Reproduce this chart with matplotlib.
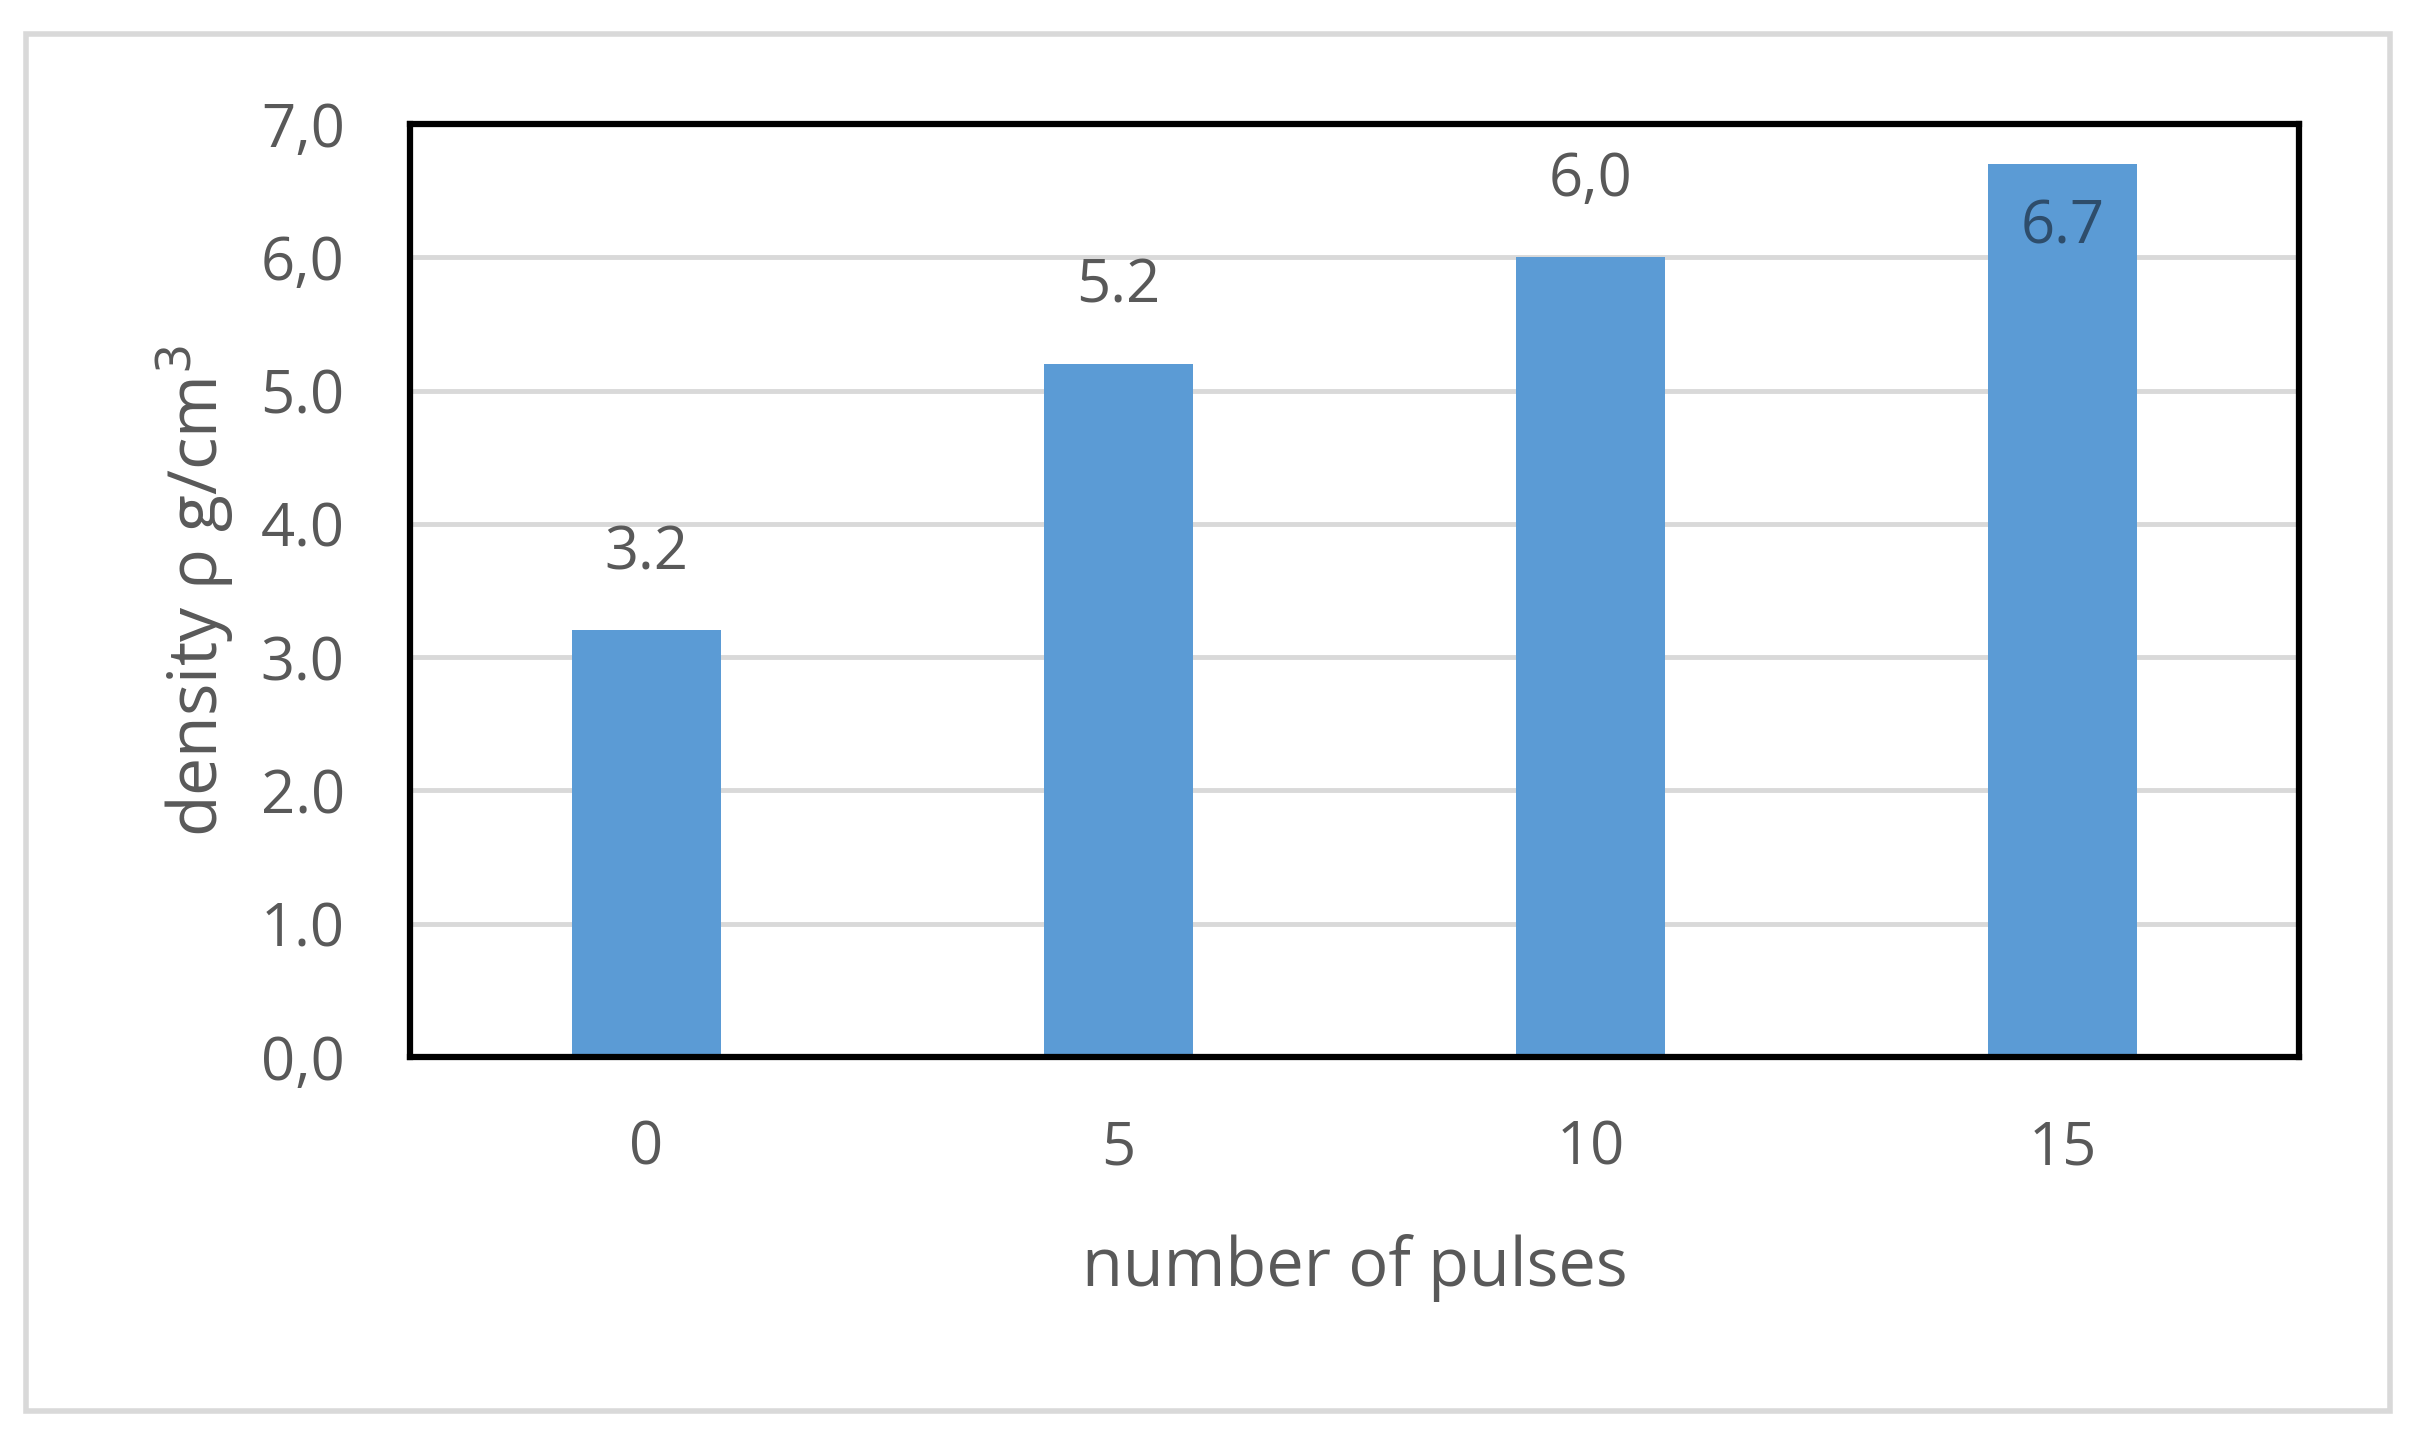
import matplotlib
matplotlib.use('Agg')
import matplotlib.pyplot as plt
from matplotlib.patches import Rectangle

plt.rcParams['font.family'] = ['Open Sans', 'DejaVu Sans']

pulses      = ['0', '5', '10', '15']
density     = [3.2, 5.2, 6.0, 6.7]
bar_labels  = ['3.2', '5.2', '6,0', '6.7']
y_ticks     = [0, 1, 2, 3, 4, 5, 6, 7]
y_ticklabs  = ['0,0', '1.0', '2.0', '3.0', '4.0', '5.0', '6,0', '7,0']

TEXT = '#595959'
BAR = '#5b9bd5'
W, H = 2424, 1455

fig = plt.figure(figsize=(W / 100, H / 100), dpi=100)
fig.patch.set_facecolor('white')

# light grey outer frame round the whole chart
fig.add_artist(Rectangle((26 / W, 44 / H), 2364 / W, 1377 / H,
                         transform=fig.transFigure, fill=False,
                         edgecolor='#d9d9d9', lw=4))

ax = fig.add_axes([410 / W, 398 / H, 1889 / W, 933 / H])
x = range(len(pulses))
ax.bar(x, density, width=0.315, color=BAR, zorder=2)
ax.set_xlim(-0.5, 3.5)
ax.set_ylim(0, 7)
ax.set_yticks(y_ticks)
ax.set_yticklabels(y_ticklabs)
ax.set_xticks(list(x))
ax.set_xticklabels(pulses)
ax.yaxis.grid(True, color='#d9d9d9', lw=3.5, zorder=0)
ax.set_axisbelow(True)
ax.tick_params(length=0, labelsize=43, colors=TEXT)
ax.tick_params(axis='y', pad=47)
ax.tick_params(axis='x', pad=44)
for sp in ax.spines.values():
    sp.set_color('black')
    sp.set_linewidth(4.5)

for i, (v, lab) in enumerate(zip(density, bar_labels)):
    if v + 0.6 > 7:
        ax.text(i, v - 0.48, lab, ha='center', va='center',
                fontsize=43, color='#2e4d6b')
    else:
        ax.text(i, v + 0.58, lab, ha='center', va='center',
                fontsize=43, color=TEXT)

ax.set_xlabel('number of pulses', fontsize=48, color=TEXT, labelpad=40)
ax.set_ylabel('density ρ g/cm$^3$', fontsize=49, color=TEXT, labelpad=18)

fig.savefig('out.png', dpi=100, facecolor='white')
